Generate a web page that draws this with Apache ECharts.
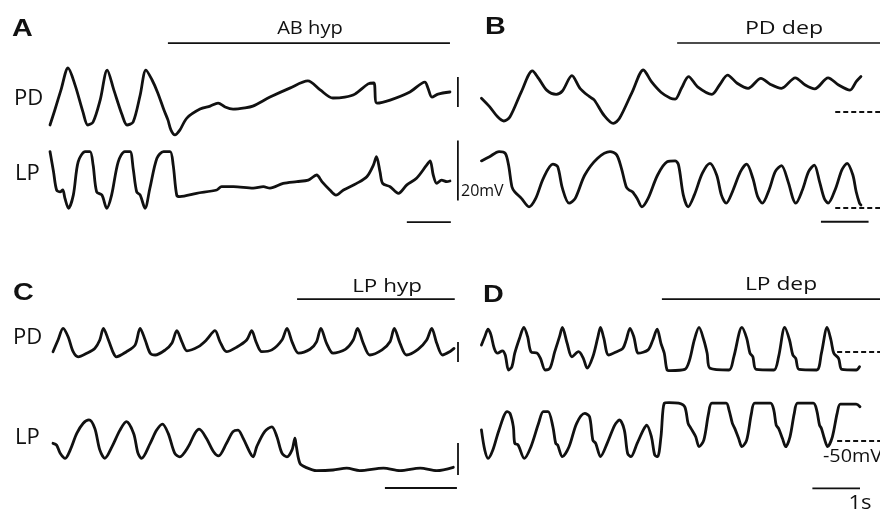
<!DOCTYPE html>
<html><head><meta charset="utf-8">
<script src="https://cdn.jsdelivr.net/npm/echarts@6/dist/echarts.min.js"></script>
<style>html,body{margin:0;padding:0;background:#fff}#c{width:880px;height:512px}</style>
</head><body><div id="c"></div>
<script>
// ===== DATA (time in s, membrane potential in mV) =====
const panelLetters = ['A', 'B', 'C', 'D'];
const stimLabels = ['AB hyp', 'PD dep', 'LP hyp', 'LP dep'];
const traceNames = ['PD', 'LP'];

const A_PD = [[0,-60],[0.11,-55],[0.25,-48.3],[0.41,-41],[0.57,-46.7],[0.75,-55.7],[0.86,-60],[0.98,-59],[1.14,-51.7],[1.30,-41.7],[1.45,-48.3],[1.64,-56.7],[1.75,-60],[1.89,-59],[2.05,-50],[2.18,-41.7],[2.32,-45],[2.45,-49.3],[2.59,-55],[2.68,-58.3],[2.75,-61.7],[2.84,-63.3],[2.95,-61.7],[3.11,-57.7],[3.41,-54.7],[3.64,-53.7],[3.82,-52.7],[3.98,-54],[4.16,-54.7],[4.43,-54.3],[4.61,-53.7],[5.00,-50.7],[5.45,-47.7],[5.86,-45.3],[6.14,-48.3],[6.43,-51],[6.70,-50.7],[6.93,-49.7],[7.23,-46.3],[7.36,-46],[7.43,-52.7],[7.73,-51.7],[8.18,-49],[8.52,-45.7],[8.59,-47.7],[8.68,-50.7],[8.82,-49.7],[9.09,-49]];
const A_LP = [[0,-41.2],[0.08,-47.9],[0.15,-54],[0.23,-54.6],[0.29,-54],[0.34,-56.8],[0.42,-60.1],[0.53,-55.7],[0.64,-44.6],[0.80,-41.2],[0.91,-41.2],[0.98,-45.7],[1.06,-54.6],[1.18,-55.7],[1.29,-60.1],[1.40,-55.7],[1.55,-44.6],[1.70,-41.2],[1.82,-41.2],[1.89,-46.8],[1.97,-54.6],[2.05,-55.7],[2.16,-60.1],[2.27,-53.4],[2.43,-43.4],[2.58,-41.2],[2.73,-41.2],[2.80,-45.7],[2.88,-55.7],[2.95,-56.2],[3.33,-55.1],[3.79,-54],[3.90,-52.9],[4.17,-52.9],[4.62,-53.4],[4.85,-52.9],[5.00,-53.4],[5.30,-51.8],[5.61,-51.2],[5.87,-50.7],[6.06,-49],[6.18,-51.2],[6.36,-54],[6.50,-55.7],[6.67,-54],[6.97,-51.8],[7.20,-49.6],[7.35,-45.7],[7.42,-42.9],[7.50,-47.9],[7.56,-51.8],[7.73,-52.9],[7.92,-55.1],[8.11,-52.3],[8.33,-50.1],[8.56,-45.7],[8.64,-44.3],[8.71,-49],[8.79,-51.8],[8.90,-50.7],[9.02,-51.2],[9.09,-51]];

const B_PD = [[0.03,-45.4],[0.2,-48.2],[0.37,-51.6],[0.5,-53],[0.63,-51.6],[0.87,-43.2],[1.1,-36.3],[1.23,-38.8],[1.4,-42.7],[1.6,-44.1],[1.73,-43],[1.93,-37.9],[2.1,-42.1],[2.3,-44.9],[2.4,-46],[2.6,-51],[2.8,-53.8],[2.93,-52.1],[3.2,-43.2],[3.43,-36],[3.6,-39.9],[3.8,-43.4],[4.0,-45.4],[4.1,-45.7],[4.23,-42.1],[4.38,-38.2],[4.57,-41.6],[4.87,-44.1],[5.03,-41],[5.2,-37.7],[5.4,-40.4],[5.63,-42.1],[5.9,-38.8],[6.1,-40.8],[6.33,-42.1],[6.62,-38.6],[6.83,-41],[7.03,-42.3],[7.31,-38.6],[7.53,-41],[7.77,-42.7],[7.9,-39.9],[8.0,-38.2]];
const B_LP = [[0.03,-34.3],[0.2,-32.9],[0.4,-31.2],[0.53,-31.8],[0.6,-35.7],[0.67,-42.9],[0.73,-44.6],[0.87,-46.8],[1.03,-49.6],[1.17,-46.8],[1.33,-40.1],[1.53,-35.4],[1.63,-36.2],[1.73,-43.4],[1.87,-48.4],[2.0,-46.8],[2.2,-39],[2.47,-33.4],[2.73,-31.2],[2.87,-32.3],[2.97,-36.8],[3.07,-42.9],[3.13,-44],[3.2,-44.6],[3.3,-46.8],[3.4,-49.6],[3.53,-46.8],[3.73,-39],[3.93,-34.6],[4.1,-34.3],[4.17,-35.7],[4.27,-45.7],[4.37,-49.6],[4.5,-45.7],[4.67,-38.4],[4.83,-35.1],[4.97,-39],[5.07,-45.7],[5.17,-48.4],[5.3,-44.6],[5.47,-37.9],[5.6,-35.4],[5.73,-40.1],[5.83,-46.2],[5.93,-48.4],[6.07,-44],[6.2,-37.9],[6.33,-35.9],[6.47,-41.2],[6.57,-46.8],[6.63,-48.4],[6.77,-44],[6.9,-37.9],[7.02,-35.7],[7.13,-41.2],[7.23,-46.8],[7.31,-48.4],[7.47,-43.4],[7.6,-37.3],[7.71,-35.1],[7.83,-39],[7.9,-44.6],[7.97,-48.4],[8.0,-49]];

const C_PD = [[0,-58.9],[0.07,-55],[0.14,-51.1],[0.21,-53.9],[0.28,-58.9],[0.35,-60.6],[0.47,-59.4],[0.58,-57.8],[0.65,-55],[0.70,-51.1],[0.77,-55],[0.84,-59.4],[0.88,-60.6],[1.02,-58.9],[1.14,-56.7],[1.21,-51.1],[1.28,-55],[1.35,-59.4],[1.42,-60],[1.56,-58.3],[1.65,-56.1],[1.72,-51.9],[1.79,-55.6],[1.86,-58.6],[2.02,-57.2],[2.13,-55],[2.25,-51.9],[2.32,-55.6],[2.41,-58.9],[2.55,-57.4],[2.69,-55],[2.76,-51.9],[2.82,-55.6],[2.90,-58.9],[3.04,-58.3],[3.18,-55],[3.25,-51.1],[3.32,-55.6],[3.41,-59.4],[3.57,-58.1],[3.66,-55.6],[3.72,-51.1],[3.80,-56.1],[3.89,-59.4],[4.06,-58.1],[4.17,-55],[4.23,-51.1],[4.31,-56.1],[4.40,-60],[4.57,-58.3],[4.68,-55.6],[4.74,-51.1],[4.82,-56.1],[4.91,-60],[5.07,-58.1],[5.19,-55],[5.26,-51.1],[5.33,-56.1],[5.41,-60],[5.51,-58.9],[5.57,-57.8]];
const C_LP = [[0,-51.1],[0.05,-51.7],[0.10,-54.4],[0.17,-56.1],[0.24,-53.3],[0.33,-47.8],[0.42,-44.4],[0.50,-43.3],[0.58,-46.1],[0.65,-53.3],[0.72,-56.1],[0.82,-52.2],[0.93,-46.7],[1.02,-43.9],[1.12,-47.8],[1.18,-54.4],[1.23,-56.1],[1.35,-51.1],[1.44,-46.7],[1.52,-44.7],[1.60,-47.8],[1.69,-54.4],[1.76,-55.6],[1.88,-52.2],[1.97,-47.8],[2.03,-46.4],[2.13,-49.4],[2.23,-53.9],[2.30,-55.3],[2.41,-51.1],[2.50,-47.2],[2.57,-46.7],[2.64,-49.4],[2.74,-54.4],[2.78,-55.6],[2.83,-52.2],[2.94,-47.2],[3.04,-45.6],[3.11,-48.9],[3.18,-54.4],[3.25,-55.6],[3.32,-53.3],[3.36,-49.4],[3.38,-52.2],[3.43,-57.8],[3.52,-59.2],[3.66,-60.2],[3.89,-60],[4.08,-59.4],[4.26,-60.2],[4.59,-59.4],[4.82,-60.2],[5.10,-59.4],[5.33,-60.2],[5.56,-59.1]];

const D_PD = [[0.03,-47.7],[0.1,-44.9],[0.17,-42.4],[0.23,-44.3],[0.3,-48.8],[0.37,-50.4],[0.47,-49.6],[0.53,-51],[0.6,-56],[0.67,-54.9],[0.73,-50.4],[0.83,-45.4],[0.92,-41.8],[1.0,-44.9],[1.07,-49.9],[1.2,-50.4],[1.27,-52.1],[1.37,-56],[1.47,-55.4],[1.57,-49.9],[1.67,-44.9],[1.73,-41.8],[1.83,-47.1],[1.93,-51.6],[2.07,-49.9],[2.17,-52.1],[2.25,-55.4],[2.37,-51.6],[2.47,-45.4],[2.53,-41.8],[2.6,-45.4],[2.7,-51],[2.87,-49.9],[3.0,-48.8],[3.07,-46],[3.15,-42.1],[3.23,-44.9],[3.33,-50.4],[3.53,-49.3],[3.63,-46],[3.72,-42.4],[3.8,-47.1],[3.87,-50.4],[3.93,-56],[4.0,-56.2],[4.3,-55.8],[4.4,-52.7],[4.5,-46],[4.6,-41.8],[4.7,-46],[4.77,-50.4],[4.83,-55.4],[5.23,-56],[5.33,-51.6],[5.5,-41.8],[5.6,-45.4],[5.67,-50.4],[5.73,-51.6],[5.8,-55.8],[6.17,-56],[6.27,-51.6],[6.4,-41.8],[6.5,-46],[6.57,-51],[6.63,-52.1],[6.7,-55.8],[7.07,-56],[7.17,-50.4],[7.29,-41.8],[7.37,-46],[7.43,-50.4],[7.53,-52.1],[7.6,-55.8],[7.9,-56],[7.97,-54.9]];
const D_LP = [[0.03,-46.3],[0.1,-53],[0.17,-55.8],[0.27,-53],[0.4,-46.3],[0.57,-40.2],[0.63,-40.8],[0.7,-45.2],[0.73,-50.8],[0.8,-51.3],[0.93,-55.8],[1.07,-51.9],[1.23,-44.1],[1.33,-40.2],[1.43,-40.2],[1.53,-45.2],[1.59,-50.8],[1.63,-51.3],[1.73,-55.2],[1.87,-51.9],[2.03,-44.1],[2.2,-40.8],[2.3,-41.9],[2.37,-49.7],[2.43,-50.8],[2.53,-55.2],[2.67,-50.8],[2.83,-44.7],[2.93,-43],[3.03,-46.3],[3.1,-54.1],[3.17,-55.2],[3.3,-50.8],[3.43,-46.3],[3.5,-44.7],[3.6,-48.6],[3.67,-54.7],[3.73,-55.2],[3.8,-48.6],[3.87,-37.4],[3.97,-37.2],[4.17,-37.4],[4.3,-38.6],[4.37,-44.1],[4.43,-45.8],[4.53,-48.6],[4.6,-51.9],[4.7,-49.7],[4.8,-40.8],[4.87,-37.4],[5.17,-37.4],[5.23,-39.7],[5.3,-44.1],[5.35,-45.8],[5.43,-49.1],[5.5,-51.9],[5.6,-49.7],[5.7,-40.8],[5.77,-37.4],[6.1,-37.4],[6.17,-39.7],[6.22,-44.7],[6.27,-45.8],[6.35,-49.1],[6.42,-51.9],[6.51,-48.6],[6.6,-40.8],[6.67,-37.4],[7.0,-37.4],[7.07,-39.7],[7.13,-44.7],[7.17,-45.8],[7.23,-49.1],[7.3,-51.9],[7.4,-48.6],[7.5,-40.8],[7.57,-37.7],[7.9,-37.7],[7.98,-38.6]];

// stimulus bars: [start s, end s], level (mV, PD axis)
const stimTimes = [[2.68, 9.09], [4.14, 8.6], [3.39, 5.58], [3.82, 8.6]];
const stimLevels = [-32.7, -27, -41.4, -32.4];
// vertical scale bars [t, from mV, to mV]
const pdScaleBars = [[9.27, -54, -44], null, [5.625, -62.3, -55.7], null];
const lpScaleBars = [[9.27, -57.5, -37.5], null, [5.625, -61.7, -51], null];
// 1 s time bars: [start s, level mV on LP axis]
const timeBars = [[8.11, -64.7], [7.16, -54.6], [4.61, -66], [6.98, -65.8]];
const TIME_BAR_S = 1;
// -50 mV reference (dashed) [start s, end s]
const restLines = [null, [7.46, 8.6], null, [7.5, 8.6]];
const REST_MV = -50;

const traces = [[A_PD, A_LP], [B_PD, B_LP], [C_PD, C_LP], [D_PD, D_LP]];

// ===== LAYOUT =====
const PX_PER_MV = 3;
const layout = [
  {left: 50, top: 20, width: 410, height: 210, pxPerSec: 44, ref: [{px: 125, mv: -60}, {px: 208, mv: -60}]},
  {left: 480, top: 20, width: 420, height: 210, pxPerSec: 50, ref: [{px: 112, mv: -50}, {px: 208, mv: -50}]},
  {left: 53, top: 280, width: 410, height: 215, pxPerSec: 72, ref: [{px: 355, mv: -60}, {px: 470, mv: -60}]},
  {left: 480, top: 280, width: 420, height: 215, pxPerSec: 50, ref: [{px: 352, mv: -50}, {px: 441, mv: -50}]}
];
const INK = '#111';

function yRange(L, ref) {
  return {
    max: ref.mv + (ref.px - L.top) / PX_PER_MV,
    min: ref.mv + (ref.px - L.top - L.height) / PX_PER_MV
  };
}

const grid = [], xAxis = [], yAxis = [], series = [];
layout.forEach((L, i) => {
  grid.push({left: L.left, top: L.top, width: L.width, height: L.height});
  xAxis.push({type: 'value', gridIndex: i, min: 0, max: L.width / L.pxPerSec, show: false});
  [0, 1].forEach(k => {
    const r = yRange(L, L.ref[k]);
    yAxis.push({type: 'value', gridIndex: i, min: r.min, max: r.max, show: false});
  });
  const yPD = 2 * i, yLP = 2 * i + 1;
  const base = {type: 'line', xAxisIndex: i, showSymbol: false, symbol: 'none', silent: true, animation: false};
  traces[i].forEach((d, k) => {
    series.push(Object.assign({}, base, {
      name: panelLetters[i] + ' ' + traceNames[k], yAxisIndex: k === 0 ? yPD : yLP,
      data: d, smooth: 0.3, lineStyle: {color: INK, width: 2.8, join: 'round', cap: 'round'}
    }));
  });
  // stimulus bar
  series.push(Object.assign({}, base, {yAxisIndex: yPD,
    data: [[stimTimes[i][0], stimLevels[i]], [stimTimes[i][1], stimLevels[i]]],
    lineStyle: {color: INK, width: 1.7}}));
  // vertical scale bars
  if (pdScaleBars[i]) {
    const b = pdScaleBars[i];
    series.push(Object.assign({}, base, {yAxisIndex: yPD, data: [[b[0], b[1]], [b[0], b[2]]], lineStyle: {color: INK, width: 1.8}}));
  }
  if (lpScaleBars[i]) {
    const b = lpScaleBars[i];
    series.push(Object.assign({}, base, {yAxisIndex: yLP, data: [[b[0], b[1]], [b[0], b[2]]], lineStyle: {color: INK, width: 1.8}}));
  }
  // time bar
  const tb = timeBars[i];
  series.push(Object.assign({}, base, {yAxisIndex: yLP, data: [[tb[0], tb[1]], [tb[0] + TIME_BAR_S, tb[1]]], lineStyle: {color: INK, width: 1.9}}));
  // rest potential dashes
  if (restLines[i]) {
    [yPD, yLP].forEach(ax => {
      series.push(Object.assign({}, base, {yAxisIndex: ax, data: [[restLines[i][0], REST_MV], [restLines[i][1], REST_MV]],
        lineStyle: {color: INK, width: 1.8, type: [5, 3]}}));
    });
  }
});

// ===== TEXT =====
const SANS = '"Open Sans", "Noto Sans", sans-serif';
function txt(text, x, y, size, opts) {
  opts = opts || {};
  return {type: 'text', x: x, y: y, scaleX: opts.sx || 1.1, silent: true,
    style: {text: text, fill: INK, font: (opts.bold ? 'bold ' : '') + size + 'px ' + (opts.family || SANS),
      textAlign: opts.align || 'left', textVerticalAlign: 'middle'}};
}
const letterFont = '"Liberation Sans", Arial, sans-serif';
const graphic = [
  txt(panelLetters[0], 12, 30, 23, {bold: true, family: letterFont, sx: 1.25}),
  txt(panelLetters[1], 485, 28, 23, {bold: true, family: letterFont, sx: 1.25}),
  txt(panelLetters[2], 13, 294, 23, {bold: true, family: letterFont, sx: 1.25}),
  txt(panelLetters[3], 483, 296, 23, {bold: true, family: letterFont, sx: 1.25}),
  txt(stimLabels[0], 310, 29, 19, {align: 'center', sx: 1.06}),
  txt(stimLabels[1], 784, 29, 19, {align: 'center', sx: 1.22}),
  txt(stimLabels[2], 387, 287, 19, {align: 'center', sx: 1.18}),
  txt(stimLabels[3], 781, 285, 19, {align: 'center', sx: 1.2}),
  txt(traceNames[0], 14, 99, 21, {sx: 1.05}),
  txt(traceNames[1], 15, 174, 21, {sx: 1.05}),
  txt(traceNames[0], 13, 338, 21, {sx: 1.05}),
  txt(traceNames[1], 15, 438, 21, {sx: 1.05}),
  txt('20mV', 461, 191, 16, {sx: 1.0}),
  txt('-50mV', 823, 457, 18, {sx: 1.1}),
  txt('1s', 860, 503, 20, {align: 'center', sx: 1.1})
];

const chart = echarts.init(document.getElementById('c'), null, {renderer: 'canvas'});
chart.setOption({animation: false, backgroundColor: '#fff', grid, xAxis, yAxis, series, graphic});
</script></body></html>
